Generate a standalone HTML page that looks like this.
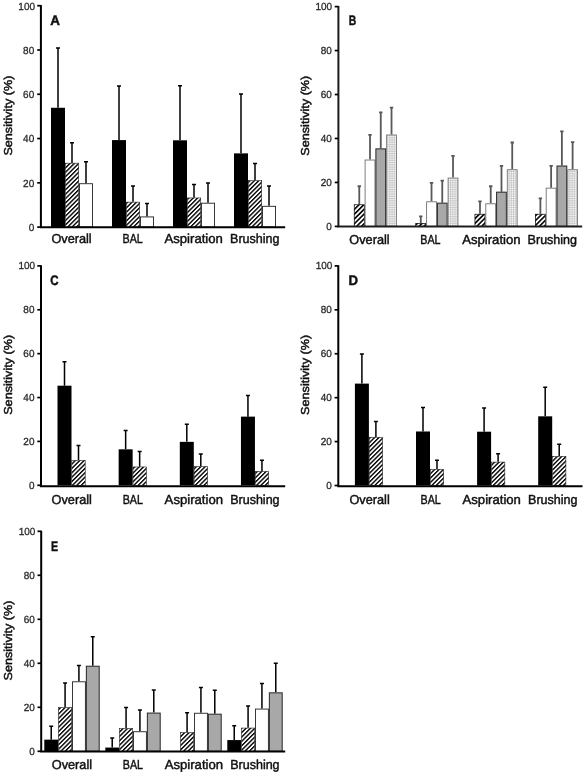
<!DOCTYPE html>
<html><head><meta charset="utf-8"><title>Sensitivity</title>
<style>html,body{margin:0;padding:0;background:#fff}svg{display:block}text{font-family:"Liberation Sans", sans-serif;text-rendering:geometricPrecision;fill:#111;stroke:#111;stroke-width:0.45px}text.t{fill:#2a2a2a;stroke:#2a2a2a;stroke-width:0.3px}</style></head><body>
<svg width="585" height="773" viewBox="0 0 585 773">
<defs>
<pattern id="hatch" patternUnits="userSpaceOnUse" width="3.1" height="3.1" patternTransform="rotate(-45)">
<rect width="3.1" height="3.1" fill="#fff"/><rect width="3.1" height="1.4" fill="#000"/></pattern>
<pattern id="thick" patternUnits="userSpaceOnUse" width="3.4" height="3.4" patternTransform="rotate(-45)">
<rect width="3.4" height="3.4" fill="#fff"/><rect width="3.4" height="1.6" fill="#000"/></pattern>
<pattern id="grid" patternUnits="userSpaceOnUse" width="1.8" height="1.8">
<rect width="1.8" height="1.8" fill="#fff"/><path d="M0 0.3H1.8M0.3 0V1.8" stroke="#adadad" stroke-width="0.55"/></pattern>
<filter id="soft" x="-2%" y="-2%" width="104%" height="104%"><feGaussianBlur stdDeviation="0.45"/></filter>
</defs>
<rect width="585" height="773" fill="#fff"/>
<g filter="url(#soft)">
<g id="panel-A">
<path d="M58 107.77V47.77M56 48.07H60" stroke="#000" stroke-width="1.5" fill="none"/>
<rect x="51" y="107.77" width="14" height="119.33" fill="#000"/>
<path d="M72 162.89V142.53M70 142.83H74" stroke="#000" stroke-width="1.5" fill="none"/>
<rect x="65.3" y="163.19" width="13.4" height="63.91" fill="url(#hatch)" stroke="#222" stroke-width="0.6"/>
<path d="M86 183.26V161.34M84 161.64H88" stroke="#000" stroke-width="1.5" fill="none"/>
<rect x="79.45" y="183.71" width="13.1" height="43.39" fill="#fff" stroke="#222" stroke-width="0.9"/>
<path d="M119 140.09V85.63M117 85.93H121" stroke="#000" stroke-width="1.5" fill="none"/>
<rect x="112" y="140.09" width="14" height="87.01" fill="#000"/>
<path d="M133 201.86V185.7M131 186H135" stroke="#000" stroke-width="1.5" fill="none"/>
<rect x="126.3" y="202.16" width="13.4" height="24.94" fill="url(#hatch)" stroke="#222" stroke-width="0.6"/>
<path d="M147 216.47V203.19M145 203.49H149" stroke="#000" stroke-width="1.5" fill="none"/>
<rect x="140.45" y="216.92" width="13.1" height="10.18" fill="#fff" stroke="#222" stroke-width="0.9"/>
<path d="M180 140.31V85.4M178 85.7H182" stroke="#000" stroke-width="1.5" fill="none"/>
<rect x="173" y="140.31" width="14" height="86.79" fill="#000"/>
<path d="M194 197.65V184.15M192 184.45H196" stroke="#000" stroke-width="1.5" fill="none"/>
<rect x="187.3" y="197.95" width="13.4" height="29.15" fill="url(#hatch)" stroke="#222" stroke-width="0.6"/>
<path d="M208 202.75V182.82M206 183.12H210" stroke="#000" stroke-width="1.5" fill="none"/>
<rect x="201.45" y="203.2" width="13.1" height="23.9" fill="#fff" stroke="#222" stroke-width="0.9"/>
<path d="M241 153.37V93.6M239 93.9H243" stroke="#000" stroke-width="1.5" fill="none"/>
<rect x="234" y="153.37" width="14" height="73.73" fill="#000"/>
<path d="M255 180.38V163.12M253 163.42H257" stroke="#000" stroke-width="1.5" fill="none"/>
<rect x="248.3" y="180.68" width="13.4" height="46.42" fill="url(#hatch)" stroke="#222" stroke-width="0.6"/>
<path d="M269 205.85V185.7M267 186H271" stroke="#000" stroke-width="1.5" fill="none"/>
<rect x="262.45" y="206.3" width="13.1" height="20.8" fill="#fff" stroke="#222" stroke-width="0.9"/>
<path d="M40.9 5.1V227.2H285.2" stroke="#000" stroke-width="2" fill="none" stroke-linejoin="miter"/>
<path d="M37.2 227.1H40.9" stroke="#000" stroke-width="1.7"/>
<text class="t" x="28.65" y="231" font-size="10.3" textLength="5.55" lengthAdjust="spacingAndGlyphs">0</text>
<path d="M37.2 182.82H40.9" stroke="#000" stroke-width="1.7"/>
<text class="t" x="23.1" y="186.72" font-size="10.3" textLength="11.1" lengthAdjust="spacingAndGlyphs">20</text>
<path d="M37.2 138.54H40.9" stroke="#000" stroke-width="1.7"/>
<text class="t" x="23.1" y="142.44" font-size="10.3" textLength="11.1" lengthAdjust="spacingAndGlyphs">40</text>
<path d="M37.2 94.26H40.9" stroke="#000" stroke-width="1.7"/>
<text class="t" x="23.1" y="98.16" font-size="10.3" textLength="11.1" lengthAdjust="spacingAndGlyphs">60</text>
<path d="M37.2 49.98H40.9" stroke="#000" stroke-width="1.7"/>
<text class="t" x="23.1" y="53.88" font-size="10.3" textLength="11.1" lengthAdjust="spacingAndGlyphs">80</text>
<path d="M37.2 5.7H40.9" stroke="#000" stroke-width="1.7"/>
<text class="t" x="18.35" y="9.6" font-size="10.3" textLength="16.65" lengthAdjust="spacingAndGlyphs">100</text>
<text transform="translate(11.7 115.6) rotate(-90)" font-size="11.5" text-anchor="middle" textLength="80" lengthAdjust="spacingAndGlyphs">Sensitivity (%)</text>
<text x="50.2" y="24.8" font-size="13.8" font-weight="bold" stroke-width="0.7" textLength="9.7" lengthAdjust="spacingAndGlyphs">A</text>
<text x="51.39" y="243" font-size="13" textLength="40.3" lengthAdjust="spacingAndGlyphs">Overall</text>
<text x="122.51" y="243" font-size="13" textLength="20.2" lengthAdjust="spacingAndGlyphs">BAL</text>
<text x="164.49" y="243" font-size="13" textLength="58.4" lengthAdjust="spacingAndGlyphs">Aspiration</text>
<text x="230.06" y="243" font-size="13" textLength="49.4" lengthAdjust="spacingAndGlyphs">Brushing</text>
</g>
<g id="panel-B">
<path d="M359.27 204.42V185.96M357.57 186.26H360.97" stroke="#585858" stroke-width="1.8" fill="none"/>
<rect x="354.25" y="204.77" width="10.05" height="21.63" fill="url(#thick)" stroke="#000" stroke-width="0.7"/>
<path d="M370.02 159.58V134.52M368.32 134.82H371.72" stroke="#585858" stroke-width="1.8" fill="none"/>
<rect x="365.1" y="160.03" width="9.85" height="66.37" fill="#fff" stroke="#707070" stroke-width="0.9"/>
<path d="M380.77 148.37V112.1M379.07 112.4H382.47" stroke="#585858" stroke-width="1.8" fill="none"/>
<rect x="375.9" y="148.87" width="9.75" height="77.53" fill="#a8a8a8" stroke="#262626" stroke-width="1"/>
<path d="M391.52 134.52V107.27M389.82 107.57H393.22" stroke="#585858" stroke-width="1.8" fill="none"/>
<rect x="386.6" y="134.97" width="9.85" height="91.43" fill="url(#grid)" stroke="#777" stroke-width="0.9"/>
<path d="M420.77 223.1V216.07M419.07 216.37H422.47" stroke="#585858" stroke-width="1.8" fill="none"/>
<rect x="415.75" y="223.45" width="10.05" height="2.95" fill="url(#thick)" stroke="#000" stroke-width="0.7"/>
<path d="M431.52 201.34V182.66M429.82 182.96H433.22" stroke="#585858" stroke-width="1.8" fill="none"/>
<rect x="426.6" y="201.79" width="9.85" height="24.61" fill="#fff" stroke="#707070" stroke-width="0.9"/>
<path d="M442.27 202.66V180.24M440.57 180.54H443.97" stroke="#585858" stroke-width="1.8" fill="none"/>
<rect x="437.4" y="203.16" width="9.75" height="23.24" fill="#a8a8a8" stroke="#262626" stroke-width="1"/>
<path d="M453.02 177.6V155.62M451.32 155.92H454.72" stroke="#585858" stroke-width="1.8" fill="none"/>
<rect x="448.1" y="178.05" width="9.85" height="48.35" fill="url(#grid)" stroke="#777" stroke-width="0.9"/>
<path d="M479.98 213.87V201.12M478.28 201.42H481.68" stroke="#585858" stroke-width="1.8" fill="none"/>
<rect x="474.95" y="214.22" width="10.05" height="12.18" fill="url(#thick)" stroke="#000" stroke-width="0.7"/>
<path d="M490.73 203.32V185.96M489.03 186.26H492.43" stroke="#585858" stroke-width="1.8" fill="none"/>
<rect x="485.8" y="203.77" width="9.85" height="22.63" fill="#fff" stroke="#707070" stroke-width="0.9"/>
<path d="M501.48 191.67V165.52M499.78 165.82H503.18" stroke="#585858" stroke-width="1.8" fill="none"/>
<rect x="496.6" y="192.17" width="9.75" height="34.23" fill="#a8a8a8" stroke="#262626" stroke-width="1"/>
<path d="M512.23 169.25V142.22M510.53 142.52H513.93" stroke="#585858" stroke-width="1.8" fill="none"/>
<rect x="507.3" y="169.7" width="9.85" height="56.7" fill="url(#grid)" stroke="#777" stroke-width="0.9"/>
<path d="M540.38 213.87V198.05M538.67 198.35H542.08" stroke="#585858" stroke-width="1.8" fill="none"/>
<rect x="535.35" y="214.22" width="10.05" height="12.18" fill="url(#thick)" stroke="#000" stroke-width="0.7"/>
<path d="M551.12 187.72V165.52M549.42 165.82H552.83" stroke="#585858" stroke-width="1.8" fill="none"/>
<rect x="546.2" y="188.17" width="9.85" height="38.23" fill="#fff" stroke="#707070" stroke-width="0.9"/>
<path d="M561.88 165.52V131.01M560.17 131.31H563.58" stroke="#585858" stroke-width="1.8" fill="none"/>
<rect x="557" y="166.02" width="9.75" height="60.38" fill="#a8a8a8" stroke="#262626" stroke-width="1"/>
<path d="M572.62 169.25V141.78M570.92 142.08H574.33" stroke="#585858" stroke-width="1.8" fill="none"/>
<rect x="567.7" y="169.7" width="9.85" height="56.7" fill="url(#grid)" stroke="#777" stroke-width="0.9"/>
<path d="M338.4 6V226.4H582.2" stroke="#1e1e1e" stroke-width="2" fill="none" stroke-linejoin="miter"/>
<path d="M334.7 226.4H338.4" stroke="#000" stroke-width="1.7"/>
<text class="t" x="326.35" y="229.8" font-size="10.3" textLength="5.55" lengthAdjust="spacingAndGlyphs">0</text>
<path d="M334.7 182.44H338.4" stroke="#000" stroke-width="1.7"/>
<text class="t" x="320.8" y="185.84" font-size="10.3" textLength="11.1" lengthAdjust="spacingAndGlyphs">20</text>
<path d="M334.7 138.48H338.4" stroke="#000" stroke-width="1.7"/>
<text class="t" x="320.8" y="141.88" font-size="10.3" textLength="11.1" lengthAdjust="spacingAndGlyphs">40</text>
<path d="M334.7 94.52H338.4" stroke="#000" stroke-width="1.7"/>
<text class="t" x="320.8" y="97.92" font-size="10.3" textLength="11.1" lengthAdjust="spacingAndGlyphs">60</text>
<path d="M334.7 50.56H338.4" stroke="#000" stroke-width="1.7"/>
<text class="t" x="320.8" y="53.96" font-size="10.3" textLength="11.1" lengthAdjust="spacingAndGlyphs">80</text>
<path d="M334.7 6.6H338.4" stroke="#000" stroke-width="1.7"/>
<text class="t" x="315.45" y="10" font-size="10.3" textLength="16.65" lengthAdjust="spacingAndGlyphs">100</text>
<text transform="translate(309.2 115.7) rotate(-90)" font-size="11.5" text-anchor="middle" textLength="80" lengthAdjust="spacingAndGlyphs">Sensitivity (%)</text>
<text x="348.7" y="25.2" font-size="13.8" font-weight="bold" stroke-width="0.7" textLength="7.5" lengthAdjust="spacingAndGlyphs">B</text>
<text x="349.33" y="244" font-size="13" textLength="40.3" lengthAdjust="spacingAndGlyphs">Overall</text>
<text x="420.32" y="244" font-size="13" textLength="20.2" lengthAdjust="spacingAndGlyphs">BAL</text>
<text x="462.18" y="244" font-size="13" textLength="58.4" lengthAdjust="spacingAndGlyphs">Aspiration</text>
<text x="527.62" y="244" font-size="13" textLength="49.4" lengthAdjust="spacingAndGlyphs">Brushing</text>
</g>
<g id="panel-C">
<path d="M64.5 385.69V361.56M62.5 361.86H66.5" stroke="#000" stroke-width="1.5" fill="none"/>
<rect x="57.5" y="385.69" width="14" height="99.61" fill="#000"/>
<path d="M78.5 460.07V445.15M76.5 445.45H80.5" stroke="#000" stroke-width="1.5" fill="none"/>
<rect x="71.8" y="460.37" width="13.4" height="24.93" fill="url(#hatch)" stroke="#222" stroke-width="0.6"/>
<path d="M125.65 449.32V430.23M123.65 430.53H127.65" stroke="#000" stroke-width="1.5" fill="none"/>
<rect x="118.65" y="449.32" width="14" height="35.98" fill="#000"/>
<path d="M139.65 466.65V451.29M137.65 451.59H141.65" stroke="#000" stroke-width="1.5" fill="none"/>
<rect x="132.95" y="466.95" width="13.4" height="18.35" fill="url(#hatch)" stroke="#222" stroke-width="0.6"/>
<path d="M186.8 441.86V423.87M184.8 424.17H188.8" stroke="#000" stroke-width="1.5" fill="none"/>
<rect x="179.8" y="441.86" width="14" height="43.44" fill="#000"/>
<path d="M200.8 466.21V453.71M198.8 454.01H202.8" stroke="#000" stroke-width="1.5" fill="none"/>
<rect x="194.1" y="466.51" width="13.4" height="18.79" fill="url(#hatch)" stroke="#222" stroke-width="0.6"/>
<path d="M247.95 416.63V395.13M245.95 395.43H249.95" stroke="#000" stroke-width="1.5" fill="none"/>
<rect x="240.95" y="416.63" width="14" height="68.67" fill="#000"/>
<path d="M261.95 471.04V460.07M259.95 460.37H263.95" stroke="#000" stroke-width="1.5" fill="none"/>
<rect x="255.25" y="471.34" width="13.4" height="13.96" fill="url(#hatch)" stroke="#222" stroke-width="0.6"/>
<path d="M41 265.3V486.2H285.2" stroke="#000" stroke-width="2" fill="none" stroke-linejoin="miter"/>
<path d="M37.3 485.3H41" stroke="#000" stroke-width="1.7"/>
<text class="t" x="28.9" y="488.6" font-size="10.3" textLength="5.55" lengthAdjust="spacingAndGlyphs">0</text>
<path d="M37.3 441.42H41" stroke="#000" stroke-width="1.7"/>
<text class="t" x="23.35" y="444.72" font-size="10.3" textLength="11.1" lengthAdjust="spacingAndGlyphs">20</text>
<path d="M37.3 397.54H41" stroke="#000" stroke-width="1.7"/>
<text class="t" x="23.35" y="400.84" font-size="10.3" textLength="11.1" lengthAdjust="spacingAndGlyphs">40</text>
<path d="M37.3 353.66H41" stroke="#000" stroke-width="1.7"/>
<text class="t" x="23.35" y="356.96" font-size="10.3" textLength="11.1" lengthAdjust="spacingAndGlyphs">60</text>
<path d="M37.3 309.78H41" stroke="#000" stroke-width="1.7"/>
<text class="t" x="23.35" y="313.08" font-size="10.3" textLength="11.1" lengthAdjust="spacingAndGlyphs">80</text>
<path d="M37.3 265.9H41" stroke="#000" stroke-width="1.7"/>
<text class="t" x="18.5" y="269.2" font-size="10.3" textLength="16.65" lengthAdjust="spacingAndGlyphs">100</text>
<text transform="translate(11.8 374.8) rotate(-90)" font-size="11.5" text-anchor="middle" textLength="80" lengthAdjust="spacingAndGlyphs">Sensitivity (%)</text>
<text x="50.3" y="285" font-size="13.8" font-weight="bold" stroke-width="0.7" textLength="8.3" lengthAdjust="spacingAndGlyphs">C</text>
<text x="51.58" y="503.5" font-size="13" textLength="40.3" lengthAdjust="spacingAndGlyphs">Overall</text>
<text x="122.68" y="503.5" font-size="13" textLength="20.2" lengthAdjust="spacingAndGlyphs">BAL</text>
<text x="164.63" y="503.5" font-size="13" textLength="58.4" lengthAdjust="spacingAndGlyphs">Aspiration</text>
<text x="230.18" y="503.5" font-size="13" textLength="49.4" lengthAdjust="spacingAndGlyphs">Brushing</text>
</g>
<g id="panel-D">
<path d="M361.9 383.61V353.74M359.9 354.04H363.9" stroke="#000" stroke-width="1.5" fill="none"/>
<rect x="354.9" y="383.61" width="14" height="101.89" fill="#000"/>
<path d="M375.9 436.97V421.16M373.9 421.46H377.9" stroke="#000" stroke-width="1.5" fill="none"/>
<rect x="369.2" y="437.27" width="13.4" height="48.23" fill="url(#hatch)" stroke="#222" stroke-width="0.6"/>
<path d="M423 431.48V407.32M421 407.62H425" stroke="#000" stroke-width="1.5" fill="none"/>
<rect x="416" y="431.48" width="14" height="54.02" fill="#000"/>
<path d="M437 469.03V460.03M435 460.33H439" stroke="#000" stroke-width="1.5" fill="none"/>
<rect x="430.3" y="469.33" width="13.4" height="16.17" fill="url(#hatch)" stroke="#222" stroke-width="0.6"/>
<path d="M484.1 431.7V407.76M482.1 408.06H486.1" stroke="#000" stroke-width="1.5" fill="none"/>
<rect x="477.1" y="431.7" width="14" height="53.8" fill="#000"/>
<path d="M498.1 461.78V453.44M496.1 453.74H500.1" stroke="#000" stroke-width="1.5" fill="none"/>
<rect x="491.4" y="462.08" width="13.4" height="23.42" fill="url(#hatch)" stroke="#222" stroke-width="0.6"/>
<path d="M545.2 416.33V386.9M543.2 387.2H547.2" stroke="#000" stroke-width="1.5" fill="none"/>
<rect x="538.2" y="416.33" width="14" height="69.17" fill="#000"/>
<path d="M559.2 456.07V444M557.2 444.3H561.2" stroke="#000" stroke-width="1.5" fill="none"/>
<rect x="552.5" y="456.37" width="13.4" height="29.13" fill="url(#hatch)" stroke="#222" stroke-width="0.6"/>
<path d="M338.3 265.3V486.2H582.5" stroke="#000" stroke-width="2" fill="none" stroke-linejoin="miter"/>
<path d="M334.6 485.5H338.3" stroke="#000" stroke-width="1.7"/>
<text class="t" x="326.35" y="488.5" font-size="10.3" textLength="5.55" lengthAdjust="spacingAndGlyphs">0</text>
<path d="M334.6 441.58H338.3" stroke="#000" stroke-width="1.7"/>
<text class="t" x="320.8" y="444.58" font-size="10.3" textLength="11.1" lengthAdjust="spacingAndGlyphs">20</text>
<path d="M334.6 397.66H338.3" stroke="#000" stroke-width="1.7"/>
<text class="t" x="320.8" y="400.66" font-size="10.3" textLength="11.1" lengthAdjust="spacingAndGlyphs">40</text>
<path d="M334.6 353.74H338.3" stroke="#000" stroke-width="1.7"/>
<text class="t" x="320.8" y="356.74" font-size="10.3" textLength="11.1" lengthAdjust="spacingAndGlyphs">60</text>
<path d="M334.6 309.82H338.3" stroke="#000" stroke-width="1.7"/>
<text class="t" x="320.8" y="312.82" font-size="10.3" textLength="11.1" lengthAdjust="spacingAndGlyphs">80</text>
<path d="M334.6 265.9H338.3" stroke="#000" stroke-width="1.7"/>
<text class="t" x="315.65" y="268.9" font-size="10.3" textLength="16.65" lengthAdjust="spacingAndGlyphs">100</text>
<text transform="translate(309.1 374.9) rotate(-90)" font-size="11.5" text-anchor="middle" textLength="80" lengthAdjust="spacingAndGlyphs">Sensitivity (%)</text>
<text x="348.6" y="285" font-size="13.8" font-weight="bold" stroke-width="0.7" textLength="9.5" lengthAdjust="spacingAndGlyphs">D</text>
<text x="349.48" y="503.6" font-size="13" textLength="40.3" lengthAdjust="spacingAndGlyphs">Overall</text>
<text x="420.57" y="503.6" font-size="13" textLength="20.2" lengthAdjust="spacingAndGlyphs">BAL</text>
<text x="462.53" y="503.6" font-size="13" textLength="58.4" lengthAdjust="spacingAndGlyphs">Aspiration</text>
<text x="528.07" y="503.6" font-size="13" textLength="49.4" lengthAdjust="spacingAndGlyphs">Brushing</text>
</g>
<g id="panel-E">
<path d="M51.22 739.64V726M49.22 726.3H53.22" stroke="#000" stroke-width="1.5" fill="none"/>
<rect x="44.3" y="739.64" width="13.85" height="11.66" fill="#000"/>
<path d="M65.08 707.3V682.66M63.08 682.96H67.08" stroke="#000" stroke-width="1.5" fill="none"/>
<rect x="58.45" y="707.6" width="13.25" height="43.7" fill="url(#hatch)" stroke="#222" stroke-width="0.6"/>
<path d="M78.92 681.34V665.28M76.92 665.58H80.92" stroke="#000" stroke-width="1.5" fill="none"/>
<rect x="72.45" y="681.79" width="12.95" height="69.51" fill="#fff" stroke="#222" stroke-width="0.9"/>
<path d="M92.77 665.72V636.46M90.77 636.76H94.77" stroke="#000" stroke-width="1.5" fill="none"/>
<rect x="86.35" y="666.22" width="12.85" height="85.08" fill="#a8a8a8" stroke="#262626" stroke-width="1"/>
<path d="M112.22 747.56V737.66M110.22 737.96H114.22" stroke="#000" stroke-width="1.5" fill="none"/>
<rect x="105.3" y="747.56" width="13.85" height="3.74" fill="#000"/>
<path d="M126.07 728.2V707.3M124.07 707.6H128.07" stroke="#000" stroke-width="1.5" fill="none"/>
<rect x="119.45" y="728.5" width="13.25" height="22.8" fill="url(#hatch)" stroke="#222" stroke-width="0.6"/>
<path d="M139.93 731.28V709.72M137.93 710.02H141.93" stroke="#000" stroke-width="1.5" fill="none"/>
<rect x="133.45" y="731.73" width="12.95" height="19.57" fill="#fff" stroke="#222" stroke-width="0.9"/>
<path d="M153.78 712.58V689.7M151.78 690H155.78" stroke="#000" stroke-width="1.5" fill="none"/>
<rect x="147.35" y="713.08" width="12.85" height="38.22" fill="#a8a8a8" stroke="#262626" stroke-width="1"/>
<path d="M187.08 732.38V712.36M185.08 712.66H189.08" stroke="#000" stroke-width="1.5" fill="none"/>
<rect x="180.45" y="732.68" width="13.25" height="18.62" fill="url(#hatch)" stroke="#222" stroke-width="0.6"/>
<path d="M200.93 712.8V687.28M198.93 687.58H202.93" stroke="#000" stroke-width="1.5" fill="none"/>
<rect x="194.45" y="713.25" width="12.95" height="38.05" fill="#fff" stroke="#222" stroke-width="0.9"/>
<path d="M214.78 713.68V689.92M212.78 690.22H216.78" stroke="#000" stroke-width="1.5" fill="none"/>
<rect x="208.35" y="714.18" width="12.85" height="37.12" fill="#a8a8a8" stroke="#262626" stroke-width="1"/>
<path d="M234.23 740.08V725.34M232.23 725.64H236.23" stroke="#000" stroke-width="1.5" fill="none"/>
<rect x="227.3" y="740.08" width="13.85" height="11.22" fill="#000"/>
<path d="M248.08 727.76V705.76M246.08 706.06H250.08" stroke="#000" stroke-width="1.5" fill="none"/>
<rect x="241.45" y="728.06" width="13.25" height="23.24" fill="url(#hatch)" stroke="#222" stroke-width="0.6"/>
<path d="M261.93 708.62V683.1M259.93 683.4H263.93" stroke="#000" stroke-width="1.5" fill="none"/>
<rect x="255.45" y="709.07" width="12.95" height="42.23" fill="#fff" stroke="#222" stroke-width="0.9"/>
<path d="M275.78 692.34V662.86M273.78 663.16H277.78" stroke="#000" stroke-width="1.5" fill="none"/>
<rect x="269.35" y="692.84" width="12.85" height="58.46" fill="#a8a8a8" stroke="#262626" stroke-width="1"/>
<path d="M41.2 530.7V751.5H285.2" stroke="#000" stroke-width="2" fill="none" stroke-linejoin="miter"/>
<path d="M37.5 751.3H41.2" stroke="#000" stroke-width="1.7"/>
<text class="t" x="29.35" y="754.8" font-size="10.3" textLength="5.55" lengthAdjust="spacingAndGlyphs">0</text>
<path d="M37.5 707.3H41.2" stroke="#000" stroke-width="1.7"/>
<text class="t" x="23.8" y="710.8" font-size="10.3" textLength="11.1" lengthAdjust="spacingAndGlyphs">20</text>
<path d="M37.5 663.3H41.2" stroke="#000" stroke-width="1.7"/>
<text class="t" x="23.8" y="666.8" font-size="10.3" textLength="11.1" lengthAdjust="spacingAndGlyphs">40</text>
<path d="M37.5 619.3H41.2" stroke="#000" stroke-width="1.7"/>
<text class="t" x="23.8" y="622.8" font-size="10.3" textLength="11.1" lengthAdjust="spacingAndGlyphs">60</text>
<path d="M37.5 575.3H41.2" stroke="#000" stroke-width="1.7"/>
<text class="t" x="23.8" y="578.8" font-size="10.3" textLength="11.1" lengthAdjust="spacingAndGlyphs">80</text>
<path d="M37.5 531.3H41.2" stroke="#000" stroke-width="1.7"/>
<text class="t" x="18.65" y="534.8" font-size="10.3" textLength="16.65" lengthAdjust="spacingAndGlyphs">100</text>
<text transform="translate(12 640.5) rotate(-90)" font-size="11.5" text-anchor="middle" textLength="80" lengthAdjust="spacingAndGlyphs">Sensitivity (%)</text>
<text x="51" y="550.9" font-size="13.8" font-weight="bold" stroke-width="0.7" textLength="7.1" lengthAdjust="spacingAndGlyphs">E</text>
<text x="51.75" y="768.5" font-size="13" textLength="40.3" lengthAdjust="spacingAndGlyphs">Overall</text>
<text x="122.8" y="768.5" font-size="13" textLength="20.2" lengthAdjust="spacingAndGlyphs">BAL</text>
<text x="164.7" y="768.5" font-size="13" textLength="58.4" lengthAdjust="spacingAndGlyphs">Aspiration</text>
<text x="230.2" y="768.5" font-size="13" textLength="49.4" lengthAdjust="spacingAndGlyphs">Brushing</text>
</g>
</g></svg></body></html>
